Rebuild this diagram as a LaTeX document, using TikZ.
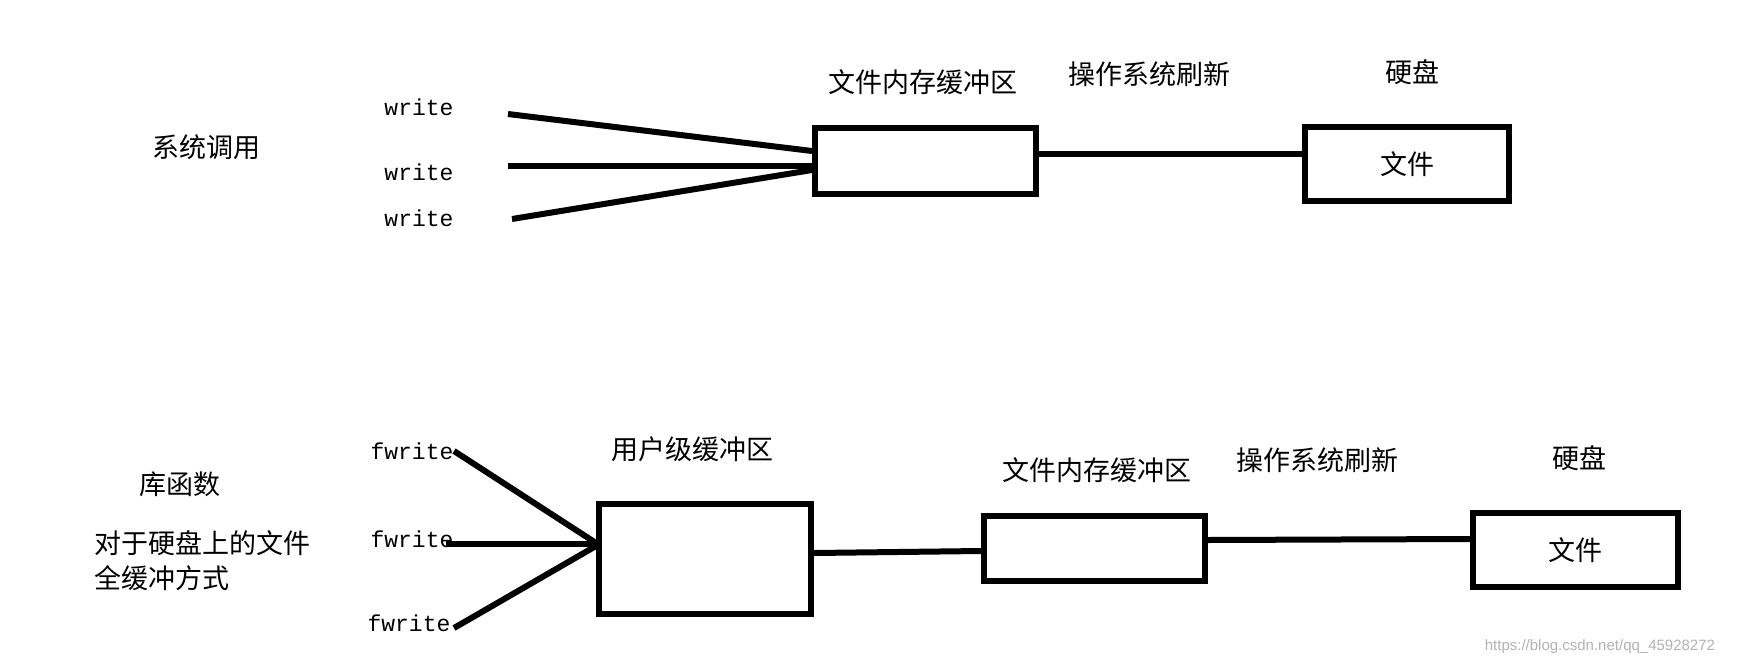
\documentclass[tikz,border=0pt]{standalone}
\usepackage{fontspec}
\newfontfamily\cjk{Noto Sans CJK SC}
\newfontfamily\callfont{Liberation Mono}
\newfontfamily\markfont{Liberation Sans}

\begin{document}
\begin{tikzpicture}[x=1pt, y=-1pt, line width=6pt,
    buffer/.style={draw, rectangle, inner sep=0pt},
    zh/.style={inner sep=0pt, font=\cjk\fontsize{27}{35}\selectfont},
    call/.style={inner sep=0pt, font=\callfont\fontsize{23}{28}\selectfont}]
    \useasboundingbox (0,0) rectangle (1738,667);

    \node[buffer, minimum width=221pt, minimum height=66pt] (kbufA) at (925.5,161) {};
    \node[buffer, zh, minimum width=204pt, minimum height=74pt] (diskA) at (1407,164) {文件};
    \node[zh] (sysA) at (206,147) {系统调用};
    \node[zh] (kbufALbl) at (923,82) {文件内存缓冲区};
    \node[zh] (flushA) at (1149,74) {操作系统刷新};
    \node[zh] (diskALbl) at (1412,72) {硬盘};
    \foreach \i/\y in {1/107,2/172,3/218}
        \node[call] (wA\i) at (419,\y) {write};

    \coordinate (fanA1) at (508,114);
    \coordinate (fanA2) at (508,166);
    \coordinate (fanA3) at (512,219);
    \foreach \i/\s in {1/10,2/-5,3/-9}
        \draw (fanA\i) -- ([yshift=\s pt]kbufA.west);
    \draw ([yshift=7pt]kbufA.east) -- ([yshift=10pt]diskA.west);

    \node[buffer, minimum width=212pt, minimum height=110pt] (ubufB) at (705,559) {};
    \node[buffer, minimum width=221pt, minimum height=65pt] (kbufB) at (1094.5,548.5) {};
    \node[buffer, zh, minimum width=205pt, minimum height=74pt] (diskB) at (1575.5,550) {文件};
    \node[zh] (libB) at (180,484) {库函数};
    \node[zh, anchor=west, align=left] (noteB) at (91,561) {对于硬盘上的文件\\全缓冲方式};
    \node[zh] (ubufBLbl) at (692,449) {用户级缓冲区};
    \node[zh] (kbufBLbl) at (1097,470) {文件内存缓冲区};
    \node[zh] (flushB) at (1317,460) {操作系统刷新};
    \node[zh] (diskBLbl) at (1579,458) {硬盘};
    \foreach \i/\x/\y in {1/412/451,2/412/539,3/409/623}
        \node[call] (fB\i) at (\x,\y) {fwrite};

    \coordinate (fanB1) at (454,451);
    \coordinate (fanB2) at (446,544);
    \coordinate (fanB3) at (454,628);
    \foreach \i/\s in {1/16,2/15,3/13}
        \draw (fanB\i) -- ([yshift=\s pt]ubufB.west);
    \draw ([yshift=6pt]ubufB.east) -- ([yshift=-2.5pt]kbufB.west);
    \draw ([yshift=8.5pt]kbufB.east) -- ([yshift=11pt]diskB.west);

    \node[anchor=east, inner sep=0pt, text=black!30, font=\markfont\fontsize{15}{18}\selectfont] (mark) at (1718,647) {https://blog.csdn.net/qq\_45928272};
\end{tikzpicture}
\end{document}
